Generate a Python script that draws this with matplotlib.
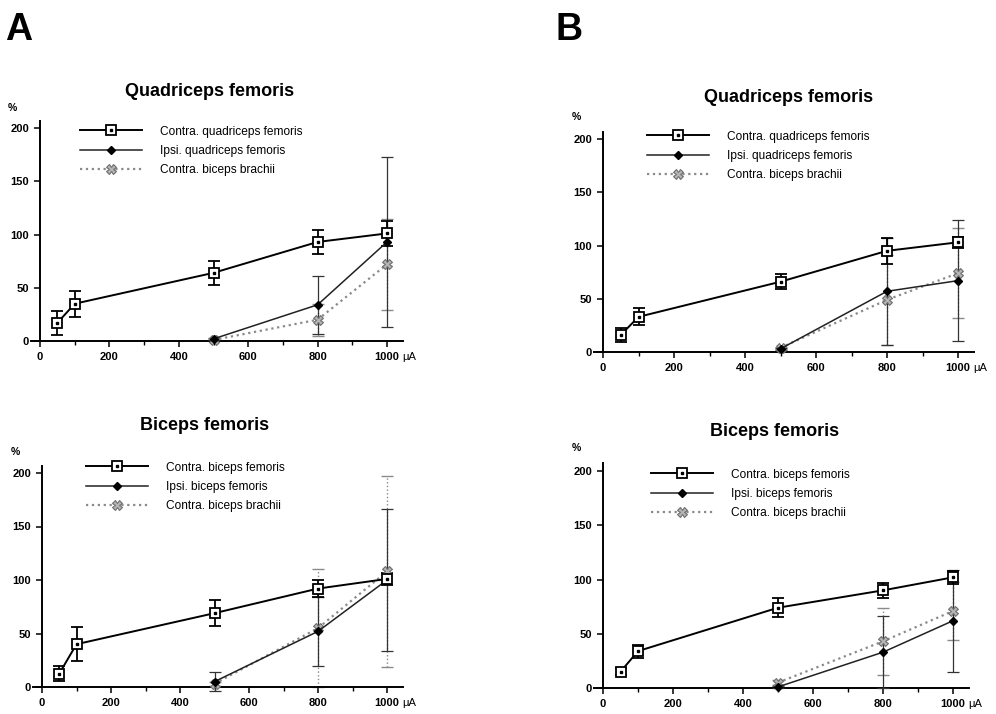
import matplotlib
matplotlib.use('Agg')
import matplotlib.pyplot as plt
from matplotlib.ticker import MultipleLocator

plt.rcParams['font.family'] = ['Liberation Sans', 'DejaVu Sans']

# ---------------- data ----------------
currents = [50, 100, 500, 800, 1000]
currents_high = [500, 800, 1000]

labels_quad = ["Contra. quadriceps femoris", "Ipsi. quadriceps femoris", "Contra. biceps brachii"]
labels_bic = ["Contra. biceps femoris", "Ipsi. biceps femoris", "Contra. biceps brachii"]
titles = ["Quadriceps femoris", "Biceps femoris"]

A_quad_contra = [17, 35, 64, 93, 101]
A_quad_contra_err = [11, 12, 11, 11, 12]
A_quad_ipsi = [2, 34, 93]
A_quad_ipsi_err = [1, 27, 80]
A_quad_brachii = [1, 20, 72]
A_quad_brachii_err = [1, 15, 43]

A_bic_contra = [12.5, 40, 69, 92, 101]
A_bic_contra_err = [7, 16, 12, 8, 6]
A_bic_ipsi = [5, 52, 100]
A_bic_ipsi_err = [9, 32, 66]
A_bic_brachii = [3, 55, 108]
A_bic_brachii_err = [2, 55, 89]

B_quad_contra = [16, 33, 66, 95, 103]
B_quad_contra_err = [7, 8, 7, 12, 5]
B_quad_ipsi = [3, 57, 67]
B_quad_ipsi_err = [1, 50, 57]
B_quad_brachii = [4, 49, 74]
B_quad_brachii_err = [1, 42, 42]

B_bic_contra = [15, 34, 74, 90, 102]
B_bic_contra_err = [3, 6, 9, 7, 6]
B_bic_ipsi = [1, 33, 62]
B_bic_ipsi_err = [1, 33, 47]
B_bic_brachii = [5, 43, 71]
B_bic_brachii_err = [2, 31, 27]

x_ticks = [0, 200, 400, 600, 800, 1000]
y_ticks = [0, 50, 100, 150, 200]

# ---------------- layout (pixels) ----------------
W, H = 996, 714
fig = plt.figure(figsize=(W / 100, H / 100), dpi=100)

panels = [
    dict(x0=40, x1000=387, y0=341, y200=128, title=titles[0], title_xy=(210, 92),
         pct_xy=(12, 108), leg_xy=(80, 151), labels=labels_quad,
         contra=(A_quad_contra, A_quad_contra_err), ipsi=(A_quad_ipsi, A_quad_ipsi_err),
         brachii=(A_quad_brachii, A_quad_brachii_err)),
    dict(x0=42, x1000=387, y0=687, y200=473, title=titles[1], title_xy=(205, 425),
         pct_xy=(15, 452), leg_xy=(86, 487), labels=labels_bic,
         contra=(A_bic_contra, A_bic_contra_err), ipsi=(A_bic_ipsi, A_bic_ipsi_err),
         brachii=(A_bic_brachii, A_bic_brachii_err)),
    dict(x0=603, x1000=958, y0=352, y200=139, title=titles[0], title_xy=(789, 97),
         pct_xy=(576, 117), leg_xy=(647, 156), labels=labels_quad,
         contra=(B_quad_contra, B_quad_contra_err), ipsi=(B_quad_ipsi, B_quad_ipsi_err),
         brachii=(B_quad_brachii, B_quad_brachii_err)),
    dict(x0=603, x1000=953, y0=688, y200=471, title=titles[1], title_xy=(775, 432),
         pct_xy=(576, 448), leg_xy=(651, 494), labels=labels_bic,
         contra=(B_bic_contra, B_bic_contra_err), ipsi=(B_bic_ipsi, B_bic_ipsi_err),
         brachii=(B_bic_brachii, B_bic_brachii_err)),
]

XLIM = (-25, 1045)
YLIM = (0, 207)
grey = '#8a8a8a'

for p in panels:
    sx = (p['x1000'] - p['x0']) / 1000.0
    sy = (p['y0'] - p['y200']) / 200.0
    left = p['x0'] + XLIM[0] * sx
    right = p['x0'] + XLIM[1] * sx
    top = p['y0'] - YLIM[1] * sy
    bottom = p['y0']
    ax = fig.add_axes([left / W, 1 - bottom / H, (right - left) / W, (bottom - top) / H])
    ax.set_xlim(XLIM)
    ax.set_ylim(YLIM)
    for s in ('top', 'right'):
        ax.spines[s].set_visible(False)
    ax.spines['left'].set_position(('data', 0))
    for s in ('left', 'bottom'):
        ax.spines[s].set_linewidth(1.4)
    ax.set_xticks(x_ticks)
    ax.xaxis.set_minor_locator(MultipleLocator(100))
    ax.set_yticks(y_ticks)
    ax.tick_params(axis='both', which='major', labelsize=8, width=1.1, length=4, pad=4)
    ax.tick_params(axis='x', which='minor', width=1.0, length=3)
    for lab in ax.get_xticklabels() + ax.get_yticklabels():
        lab.set_fontweight('bold')

    bv, be = p['brachii']
    iv, ie = p['ipsi']
    cv, ce = p['contra']

    ax.errorbar(currents_high, bv, yerr=be, fmt='none', ecolor=grey, elinewidth=1.0,
                capsize=4, capthick=1.0, linestyle=':', zorder=2, clip_on=False)
    ax.errorbar(currents_high, iv, yerr=ie, fmt='none', ecolor='#333333', elinewidth=0.9,
                capsize=4, capthick=0.9, zorder=3, clip_on=False)
    ax.errorbar(currents, cv, yerr=ce, fmt='none', ecolor='black', elinewidth=1.3,
                capsize=4, capthick=1.3, zorder=4, clip_on=False)
    for c in ax.containers[0].lines[2]:
        c.set_linestyle(':')

    lb, = ax.plot(currents_high, bv, linestyle=':', color=grey, linewidth=1.6,
                  marker='X', markersize=7, markerfacecolor='#b5b5b5',
                  markeredgecolor='#6e6e6e', markeredgewidth=0.8, zorder=5, clip_on=False)
    li, = ax.plot(currents_high, iv, linestyle='-', color='#222222', linewidth=1.1,
                  marker='D', markersize=4.5, markerfacecolor='black',
                  markeredgecolor='black', zorder=6, clip_on=False)
    lc, = ax.plot(currents, cv, linestyle='-', color='black', linewidth=1.4,
                  marker='s', markersize=7.5, markerfacecolor='white',
                  markeredgecolor='black', markeredgewidth=1.3, zorder=7, clip_on=False)
    ld, = ax.plot(currents, cv, linestyle='none', marker='s', markersize=1.6,
                  color='black', zorder=8, clip_on=False)

    ax.legend([(lc, ld), li, lb], p['labels'], loc='center left',
              bbox_to_anchor=(p['leg_xy'][0] / W, 1 - p['leg_xy'][1] / H),
              bbox_transform=fig.transFigure, frameon=False, fontsize=8.6,
              handlelength=5.2, handletextpad=1.5, labelspacing=0.62,
              borderpad=0, borderaxespad=0, numpoints=1)

    ax.annotate('μA', xy=(1000, 0), xycoords='data', xytext=(11, -8),
                textcoords='offset points', ha='left', va='top', fontsize=8)

    fig.text(p['title_xy'][0] / W, 1 - p['title_xy'][1] / H, p['title'],
             ha='center', va='center', fontsize=13, fontweight='bold')
    fig.text(p['pct_xy'][0] / W, 1 - p['pct_xy'][1] / H, '%',
             ha='center', va='center', fontsize=7.5, fontweight='bold')

fig.text(5 / W, 1 - 12 / H, 'A', ha='left', va='top', fontsize=27, fontweight='bold')
fig.text(556 / W, 1 - 12 / H, 'B', ha='left', va='top', fontsize=27, fontweight='bold')

fig.savefig('out.png', dpi=100)
